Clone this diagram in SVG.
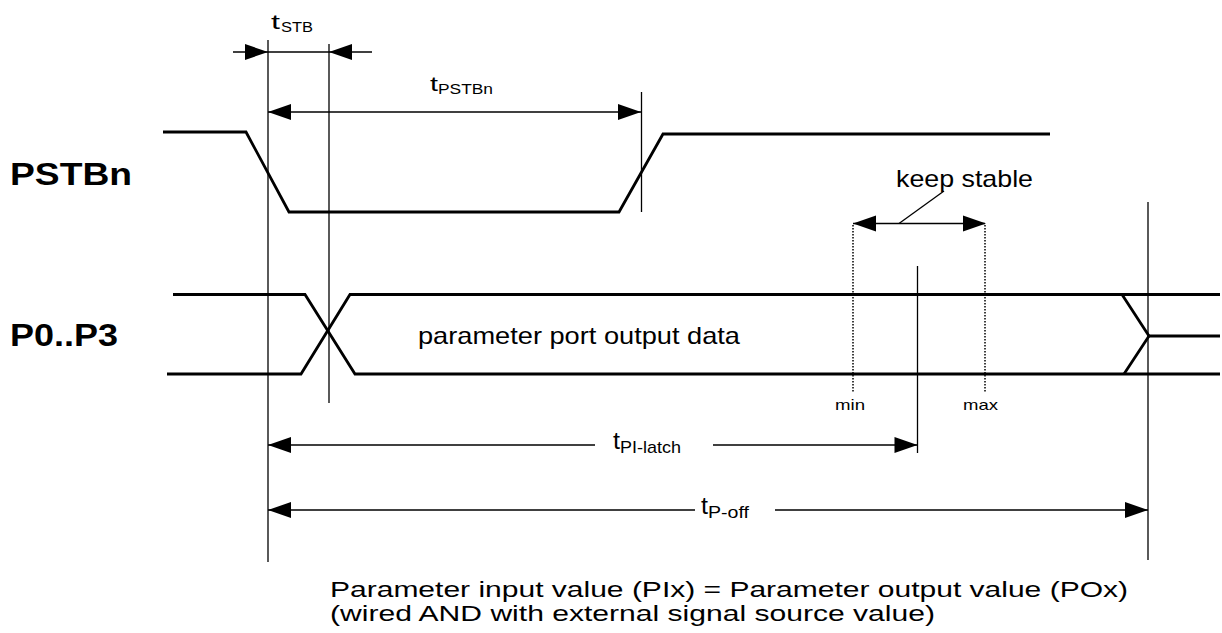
<svg xmlns="http://www.w3.org/2000/svg" width="1222" height="633" viewBox="0 0 1222 633">
<style>
.wave{fill:none;stroke:#000;stroke-width:2.8;stroke-linejoin:miter}
.thin{fill:none;stroke:#000;stroke-width:1.3}
.dot{fill:none;stroke:#000;stroke-width:1.5;stroke-dasharray:1.5 1.5}
.ah{fill:#000;stroke:none}
.t{font-family:"Liberation Sans",Arial,sans-serif;fill:#000}
.big{font-size:32px;font-weight:bold}
.txt{font-size:24px}
.note{font-size:22px}
.tl{font-size:20px}
.ts{font-size:14px}
.tlb{font-size:24px}
.tsb{font-size:17px}
.sm{font-size:15px}
</style>
<defs>
<path id="arR" class="ah" d="M0,0 L-23,-8 L-23,8 Z"/>
<path id="arL" class="ah" d="M0,0 L23,-8 L23,8 Z"/>
</defs>
<rect width="1222" height="633" fill="#fff"/>

<g id="signal-labels">
<text class="t big" x="10" y="185" textLength="122" lengthAdjust="spacingAndGlyphs">PSTBn</text>
<text class="t big" x="10" y="346" textLength="108" lengthAdjust="spacingAndGlyphs">P0..P3</text>
</g>

<g id="waveform-pstbn">
<polyline class="wave" points="163,132 246,132 289,212 619,212 663,134 1050,134"/>
</g>

<g id="waveform-p0p3">
<polyline class="wave" points="173,294.5 305,294.5 355,374 1220,374"/>
<polyline class="wave" points="167,374 301,374 350,294.5 1220,294.5"/>
<polyline class="wave" points="1122,294.5 1149,336 1124,374"/>
<line class="wave" x1="1149" y1="336" x2="1220" y2="336"/>
<text class="t txt" x="418" y="344" textLength="322" lengthAdjust="spacingAndGlyphs">parameter port output data</text>
</g>

<g id="connectors">
<line class="thin" x1="268" y1="40" x2="268" y2="562"/>
<line class="thin" x1="329" y1="44" x2="329" y2="403"/>
<line class="thin" x1="641.5" y1="92" x2="641.5" y2="212"/>
<line class="thin" x1="917.5" y1="266" x2="917.5" y2="453"/>
<line class="thin" x1="1148" y1="202" x2="1148" y2="560"/>
<line class="dot" x1="853" y1="225" x2="853" y2="392"/>
<line class="dot" x1="985" y1="225" x2="985" y2="392"/>

<line class="thin" x1="233" y1="52" x2="372" y2="52"/>
<use href="#arR" x="268" y="52"/>
<use href="#arL" x="329" y="52"/>

<line class="thin" x1="268" y1="112" x2="641" y2="112"/>
<use href="#arL" x="268" y="112"/>
<use href="#arR" x="641" y="112"/>

<line class="thin" x1="853" y1="223.5" x2="985" y2="223.5"/>
<use href="#arL" x="853" y="223.5"/>
<use href="#arR" x="986" y="223.5"/>
<line class="thin" x1="899" y1="223.5" x2="944" y2="191"/>

<line class="thin" x1="268" y1="445" x2="595" y2="445"/>
<line class="thin" x1="713" y1="445" x2="917" y2="445"/>
<use href="#arL" x="268" y="445"/>
<use href="#arR" x="917.5" y="445"/>

<line class="thin" x1="268" y1="510" x2="695" y2="510"/>
<line class="thin" x1="775" y1="510" x2="1148" y2="510"/>
<use href="#arL" x="268" y="510"/>
<use href="#arR" x="1148" y="510"/>
</g>

<g id="timing-labels">
<text class="t tl" x="271" y="29" textLength="9" lengthAdjust="spacingAndGlyphs">t</text>
<text class="t ts" x="281" y="32" textLength="32" lengthAdjust="spacingAndGlyphs">STB</text>
<text class="t tl" x="430" y="91" textLength="8" lengthAdjust="spacingAndGlyphs">t</text>
<text class="t ts" x="438" y="94" textLength="55" lengthAdjust="spacingAndGlyphs">PSTBn</text>
<text class="t tlb" x="613" y="449" textLength="7" lengthAdjust="spacingAndGlyphs">t</text>
<text class="t tsb" x="620" y="453" textLength="61" lengthAdjust="spacingAndGlyphs">PI-latch</text>
<text class="t tlb" x="701" y="514" textLength="7" lengthAdjust="spacingAndGlyphs">t</text>
<text class="t tsb" x="708" y="518" textLength="41" lengthAdjust="spacingAndGlyphs">P-off</text>
<text class="t txt" x="896" y="187" textLength="137" lengthAdjust="spacingAndGlyphs">keep stable</text>
<text class="t sm" x="835" y="410" textLength="30" lengthAdjust="spacingAndGlyphs">min</text>
<text class="t sm" x="963" y="410" textLength="35" lengthAdjust="spacingAndGlyphs">max</text>
</g>

<g id="note">
<text class="t note" x="330" y="597" textLength="798" lengthAdjust="spacingAndGlyphs">Parameter input value (PIx) = Parameter output value (POx)</text>
<text class="t note" x="330" y="621" textLength="605" lengthAdjust="spacingAndGlyphs">(wired AND with external signal source value)</text>
</g>
</svg>
